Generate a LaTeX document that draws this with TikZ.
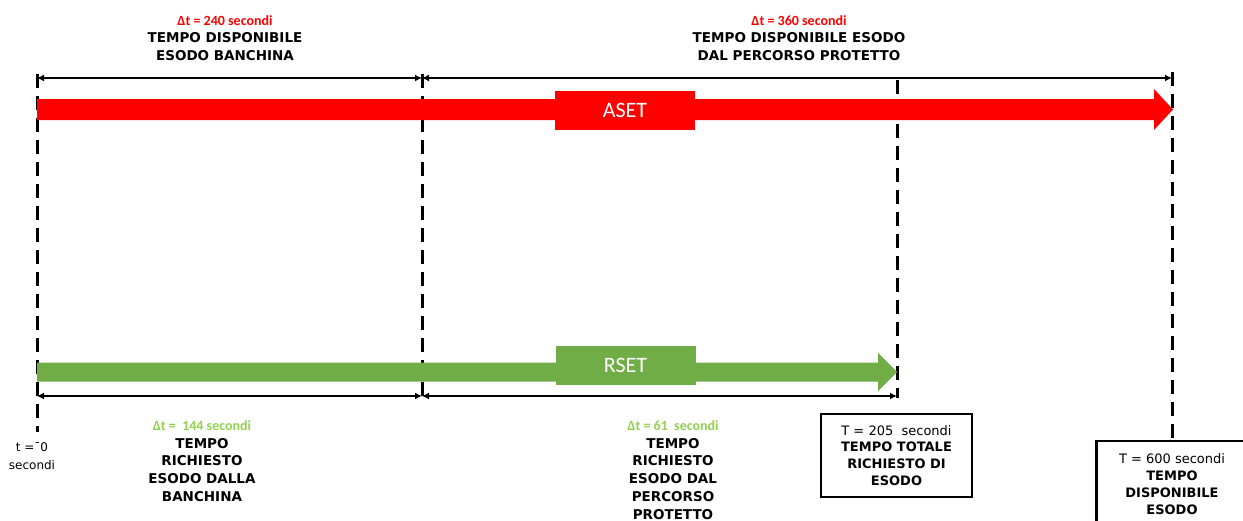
\documentclass[tikz,border=0pt]{standalone}
\usepackage{fontspec}
\setmainfont{DejaVu Sans}
\newfontfamily\calibfont{Carlito}
\usetikzlibrary{arrows.meta,positioning,calc}
\definecolor{asetred}  {HTML}{FF0000}
\definecolor{rsetgreen}{HTML}{70AD47}
\definecolor{dtgreen}  {HTML}{92D050}
\tikzset{
  timemark/.style={draw=black,line width=3pt,dash pattern=on 14pt off 8pt},
  dimline/.style={draw=black,line width=2pt,{Latex[length=7pt,width=7pt]}-{Latex[length=7pt,width=7pt]}},
  lbl/.style={align=center,inner sep=0pt,font=\fontsize{13.5}{17.7}\selectfont\bfseries},
  endbox/.style={draw=black,line width=2.5pt,align=center,inner sep=0pt,minimum width=151pt,minimum height=83pt,font=\fontsize{13}{16.8}\selectfont},
  tagbox/.style={minimum width=140pt,minimum height=39pt,inner sep=0pt,text=white,font=\calibfont\fontsize{22}{24}\selectfont}
}
\newcommand{\dtred}[1]{{\color{asetred}\calibfont\fontsize{14}{17.7}\selectfont #1}}
\newcommand{\dtgrn}[1]{{\color{dtgreen}\calibfont\fontsize{14}{17.7}\selectfont #1}}

\begin{document}
\begin{tikzpicture}[x=1pt,y=-1pt]
    \useasboundingbox (0,0) rectangle (1243,520);
    \clip (0,0) rectangle (1243,520);

    % time marks
    \coordinate (m0a) at (37,74);   \coordinate (m0b) at (37,432);
    \coordinate (m1a) at (422,74);  \coordinate (m1b) at (422,400);
    \coordinate (m2a) at (897,80);  \coordinate (m2b) at (897,398);
    \coordinate (m3a) at (1172,72); \coordinate (m3b) at (1172,441);
    \draw[timemark] (m0a) -- (m0b);
    \draw[timemark] (m1a) -- (m1b);
    \draw[timemark] (m2a) -- (m2b);
    \draw[timemark] (m3a) -- (m3b);

    % ASET band
    \fill[asetred] (37,99) -- (1154,99) -- (1154,89) -- (1173,109.5) -- (1154,130) -- (1154,120) -- (37,120) -- cycle;
    \node[tagbox,fill=asetred] (aset) at (625,110.5) {ASET};

    % RSET band
    \fill[rsetgreen] (37,362.5) -- (878,362.5) -- (878,353) -- (897,372) -- (878,391) -- (878,381.5) -- (37,381.5) -- cycle;
    \node[tagbox,fill=rsetgreen] (rset) at (625.5,365.5) {RSET};

    % dimension lines
    \coordinate (a0) at (37,78);  \coordinate (a1) at (422,78);  \coordinate (a2) at (1172,78);
    \coordinate (r0) at (37,396); \coordinate (r1) at (422,396); \coordinate (r2) at (897,396);
    \draw[dimline] (a0) -- (a1);
    \draw[dimline] (a1) -- (a2);
    \draw[dimline] (r0) -- (r1);
    \draw[dimline] (r1) -- (r2);

    % labels
    \node[lbl] (avail1) at (225,38) {\dtred{Δt = 240 secondi}\\TEMPO DISPONIBILE\\ESODO BANCHINA};
    \node[lbl] (avail2) at (799,38) {\dtred{Δt = 360 secondi}\\TEMPO DISPONIBILE ESODO\\DAL PERCORSO PROTETTO};
    \node[lbl] (req1) at (202,461) {\dtgrn{Δt =\ \ 144 secondi}\\TEMPO\\RICHIESTO\\ESODO DALLA\\BANCHINA};
    \node[lbl] (req2) at (673,470) {\dtgrn{Δt = 61\ \ secondi}\\TEMPO\\RICHIESTO\\ESODO DAL\\PERCORSO\\PROTETTO};
    \node[align=center,inner sep=0pt,font=\fontsize{12}{18}\selectfont] (tzero) at (32,456) {t =ˉ0\\secondi};

    % end boxes
    \node[endbox] (tot) at (896.5,455.5) {T = 205\ \ secondi\\\textbf{TEMPO TOTALE}\\\textbf{RICHIESTO DI}\\\textbf{ESODO}};
    \node[endbox,minimum height=86pt] (disp) at (1172,484) {T = 600 secondi\\\textbf{TEMPO}\\\textbf{DISPONIBILE}\\\textbf{ESODO}};
\end{tikzpicture}
\end{document}
